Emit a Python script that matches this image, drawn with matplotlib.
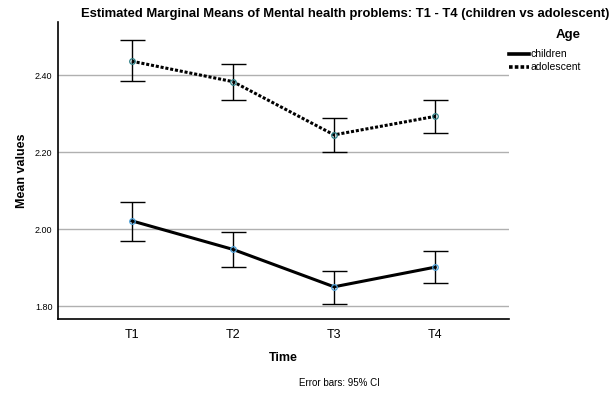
import numpy as np
from matplotlib import pyplot as plt

plt.rcParams['font.family'] = ['Liberation Sans', 'DejaVu Sans']

times = ['T1', 'T2', 'T3', 'T4']
children_mean = [2.022, 1.948, 1.851, 1.902]
children_low = [1.969, 1.902, 1.807, 1.862]
children_high = [2.072, 1.994, 1.892, 1.943]
adol_mean = [2.436, 2.383, 2.245, 2.293]
adol_low = [2.384, 2.336, 2.200, 2.251]
adol_high = [2.490, 2.430, 2.288, 2.335]
yticks = [1.80, 2.00, 2.20, 2.40]

x = np.arange(1, len(times) + 1)

fig = plt.figure(figsize=(6.12, 3.95), dpi=100)
ax = fig.add_axes([58 / 612, 1 - 319 / 395, (509 - 58) / 612, (319 - 22) / 395])

# error bars first, lines and markers on top
for m, lo, hi in [(children_mean, children_low, children_high), (adol_mean, adol_low, adol_high)]:
    m = np.array(m)
    err = [m - np.array(lo), np.array(hi) - m]
    ax.errorbar(x, m, yerr=err, fmt='none', ecolor='black', elinewidth=1.0,
                capsize=9, capthick=1.0, zorder=3)

l1, = ax.plot(x, children_mean, color='black', lw=2.2, zorder=4, label='children')
l2, = ax.plot(x, adol_mean, color='black', lw=2.2, ls=(0, (1, 0.6)), zorder=4, label='adolescent')
ax.plot(x, children_mean, 'o', ms=4, mfc='none', mec='#4a9fd8', mew=0.9, zorder=5)
ax.plot(x, adol_mean, 'o', ms=4, mfc='none', mec='#2e7f86', mew=0.9, zorder=5)

ax.set_xlim(0.27, 4.73)
ax.set_ylim(1.7675, 2.5377)
ax.set_xticks(x)
ax.set_xticklabels(times, fontsize=9)
ax.set_yticks(yticks)
ax.set_yticklabels(['%.2f' % v for v in yticks], fontsize=6.5)
ax.tick_params(axis='x', length=0, pad=7)
ax.tick_params(axis='y', length=0, pad=4)
ax.grid(axis='y', color='#b0b0b0', lw=1.0)
ax.set_axisbelow(True)
for s in ['top', 'right']:
    ax.spines[s].set_visible(False)
for s in ['left', 'bottom']:
    ax.spines[s].set_linewidth(1.2)

ax.set_ylabel('Mean values', fontsize=9, fontweight='bold', labelpad=5)
ax.set_xlabel('Time', fontsize=9, fontweight='bold', labelpad=8)
fig.text(339 / 612, 1 - 383 / 395, 'Error bars: 95% CI', fontsize=7, ha='center', va='center')
fig.text(345 / 612, 1 - 14 / 395, 'Estimated Marginal Means of Mental health problems: T1 - T4 (children vs adolescent)',
         fontsize=9.35, fontweight='bold', ha='center', va='center')

leg = fig.legend(handles=[l1, l2], loc='upper left', bbox_to_anchor=(509 / 612, 1 - 29 / 395),
                 title='Age', frameon=False, fontsize=7.5, handlelength=1.9, handletextpad=0.15,
                 labelspacing=0.3, borderaxespad=0, borderpad=0, alignment='right')
leg.get_title().set_fontweight('bold')
leg.get_title().set_fontsize(9.5)
leg._legend_box.sep = 6
for h in leg.legend_handles:
    h.set_linewidth(2.6)

fig.savefig('out.png', dpi=100)
